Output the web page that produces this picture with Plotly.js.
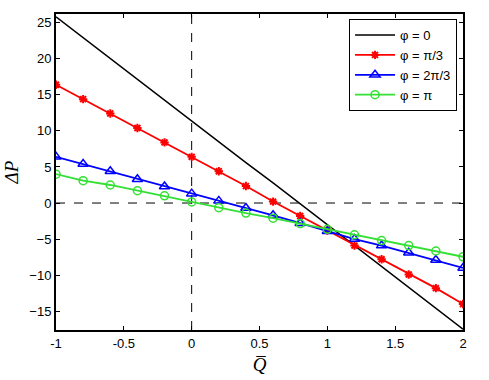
<!DOCTYPE html>
<html><head><meta charset="utf-8">
<script src="https://cdn.plot.ly/plotly-3.0.1.min.js"></script>
<style>body{margin:0;background:#fff}#c{width:489px;height:380px}</style>
</head><body><div id="c"></div>
<script>
const xVals = [-1,-0.8,-0.6,-0.4,-0.2,0,0.2,0.4,0.6,0.8,1.0,1.2,1.4,1.6,1.8,2.0];
const phi0 = [25.8,22.9,20.1,17.2,14.3,11.4,8.5,5.6,2.8,-0.1,-3.0,-5.9,-8.8,-11.7,-14.6,-17.5];
const phiPi3 = [16.4,14.4,12.4,10.4,8.4,6.4,4.4,2.35,0.2,-1.8,-3.8,-5.9,-7.8,-9.9,-11.8,-14.0];
const phi2Pi3 = [6.4,5.4,4.4,3.3,2.3,1.3,0.3,-0.7,-1.7,-2.8,-3.9,-5.0,-5.9,-6.9,-7.9,-9.0];
const phiPi = [4.0,3.1,2.5,1.7,1.0,0.15,-0.65,-1.4,-2.1,-2.85,-3.65,-4.4,-5.2,-5.9,-6.65,-7.45];
const names = ['φ = 0','φ = π/3','φ = 2π/3','φ = π'];
const xTicks = [-1,-0.5,0,0.5,1,1.5,2];
const xTickText = ['-1','-0.5','0','0.5','1','1.5','2'];
const yTicks = [-15,-10,-5,0,5,10,15,20,25];

const traces = [
  {x:xVals,y:phi0,name:names[0],mode:'lines',line:{color:'#000000',width:1.5}},
  {x:xVals,y:phiPi3,name:names[1],mode:'lines+markers',line:{color:'#ff0000',width:1.8},
   marker:{symbol:'asterisk-open',size:7,color:'#ff0000',line:{color:'#ff0000',width:2}}},
  {x:xVals,y:phi2Pi3,name:names[2],mode:'lines+markers',line:{color:'#0000ff',width:1.8},
   marker:{symbol:'triangle-up-open',size:9,color:'#0000ff',line:{color:'#0000ff',width:1.5}}},
  {x:xVals,y:phiPi,name:names[3],mode:'lines+markers',line:{color:'#33e033',width:1.8},
   marker:{symbol:'circle-open',size:8,color:'#33e033',line:{color:'#33e033',width:1.5}}}
];

const axisCommon = {showgrid:false,zeroline:false,showline:true,linecolor:'#000',linewidth:2,
  ticks:'inside',ticklen:4,tickwidth:1,tickcolor:'#000',mirror:'ticks',
  tickfont:{family:'Liberation Sans, Arial, sans-serif',size:13,color:'#000'}};

const layout = {
  width:489,height:380,
  margin:{l:56,r:26,t:14,b:50},
  paper_bgcolor:'#fff',plot_bgcolor:'#fff',
  showlegend:true,
  legend:{x:0.72,y:0.984,xanchor:'left',yanchor:'top',bgcolor:'#fff',bordercolor:'#000',borderwidth:1,
    font:{family:'Liberation Sans, Arial, sans-serif',size:13,color:'#000'},tracegroupgap:0,itemwidth:40},
  xaxis:Object.assign({},axisCommon,{range:[-1,2],tickvals:xTicks,ticktext:xTickText,
    title:{text:'<i>Q̅</i>',font:{family:'Liberation Serif, Times New Roman, serif',size:19,color:'#000'},standoff:8}}),
  yaxis:Object.assign({},axisCommon,{range:[-17.6,26.2],tickvals:yTicks,
    title:{text:'<i>ΔP</i>',font:{family:'Liberation Serif, Times New Roman, serif',size:19,color:'#000'},standoff:6}}),
  shapes:[
    {type:'line',xref:'x',yref:'paper',x0:0,x1:0,y0:0,y1:1,line:{color:'#000',width:1,dash:'dash'},layer:'below'},
    {type:'line',xref:'paper',yref:'y',x0:0,x1:1,y0:0,y1:0,line:{color:'#000',width:1,dash:'dash'},layer:'below'}
  ]
};
Plotly.newPlot('c',traces,layout,{displayModeBar:false,staticPlot:true});
</script></body></html>
